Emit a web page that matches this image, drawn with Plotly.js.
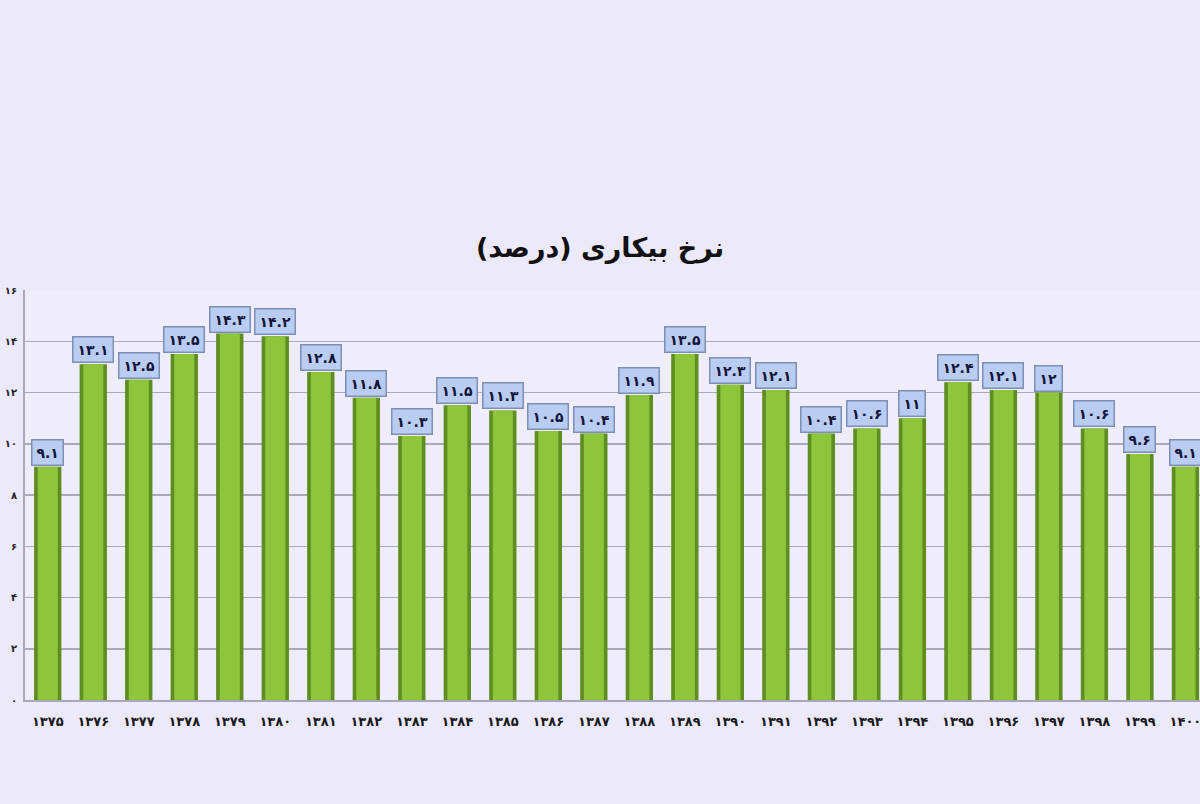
<!DOCTYPE html>
<html>
<head>
<meta charset="utf-8">
<script src="https://cdn.plot.ly/plotly-3.0.1.min.js"></script>
<style>
html,body{margin:0;padding:0;background:#ebe9fa;}
#chart{width:1200px;height:804px;}
</style>
</head>
<body>
<div id="chart"></div>
<script>
var years = ['۱۳۷۵','۱۳۷۶','۱۳۷۷','۱۳۷۸','۱۳۷۹','۱۳۸۰','۱۳۸۱','۱۳۸۲','۱۳۸۳','۱۳۸۴','۱۳۸۵','۱۳۸۶','۱۳۸۷','۱۳۸۸','۱۳۸۹','۱۳۹۰','۱۳۹۱','۱۳۹۲','۱۳۹۳','۱۳۹۴','۱۳۹۵','۱۳۹۶','۱۳۹۷','۱۳۹۸','۱۳۹۹','۱۴۰۰'];
var unemployment = [9.1,13.1,12.5,13.5,14.3,14.2,12.8,11.8,10.3,11.5,11.3,10.5,10.4,11.9,13.5,12.3,12.1,10.4,10.6,11,12.4,12.1,12,10.6,9.6,9.1];
var yTickVals = [0,2,4,6,8,10,12,14,16];
var yTickText = ['۰','۲','۴','۶','۸','۱۰','۱۲','۱۴','۱۶'];
var titleText = 'نرخ بیکاری (درصد)';

function fa(s){
  var d='۰۱۲۳۴۵۶۷۸۹';
  return String(s).replace(/[0-9]/g,function(c){return d[+c];});
}

var outer = {
  type:'bar', x:years, y:unemployment, width:0.6,
  marker:{color:'#5e8d21', line:{width:0}},
  hoverinfo:'skip', showlegend:false
};
var inner = {
  type:'bar', x:years, y:unemployment, width:0.44,
  marker:{color:'#8fc53c', line:{width:0}},
  hoverinfo:'skip', showlegend:false
};

var annotations = unemployment.map(function(v,i){
  return {
    x:years[i], y:v, xref:'x', yref:'y',
    text:'<b>'+fa(v)+'</b>', showarrow:false,
    yanchor:'bottom', xanchor:'center', yshift:1,
    font:{family:'DejaVu Sans', size:14, color:'#141438'},
    bgcolor:'#b9cdf2', bordercolor:'#7d90b3', borderwidth:1.5, borderpad:4
  };
});

var layout = {
  width:1200, height:804,
  paper_bgcolor:'#ebe9fa', plot_bgcolor:'#efedfb',
  margin:{l:25, r:0, t:290, b:104},
  barmode:'overlay',
  title:{text:'<b>'+titleText+'</b>', x:0.5, xanchor:'center', y:1-248/804, yanchor:'middle', yref:'container',
    font:{family:'DejaVu Sans', size:27, color:'#111'}},
  xaxis:{type:'category', range:[-0.5,25.32], showgrid:false, showline:true, linecolor:'#a8a8b8', linewidth:2,
    ticks:'', tickfont:{family:'DejaVu Sans', size:13, color:'#1a1a1a', weight:'bold'}, ticklabelstandoff:8, fixedrange:true},
  yaxis:{range:[0,16], tickvals:yTickVals, ticktext:yTickText, showgrid:true, gridcolor:'#a9a9bb', gridwidth:1.5,
    showline:true, linecolor:'#a8a8b8', linewidth:2, zeroline:false, ticks:'',
    tickfont:{family:'DejaVu Sans', size:10, color:'#222', weight:'bold'}, ticklabelstandoff:4, fixedrange:true},
  annotations:annotations
};

Plotly.newPlot('chart',[outer,inner],layout,{displayModeBar:false, staticPlot:true});
</script>
</body>
</html>
